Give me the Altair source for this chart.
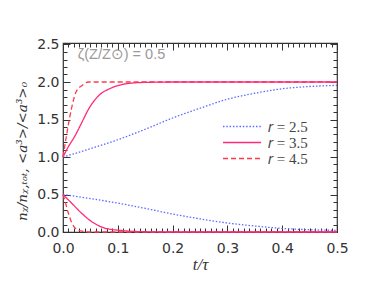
import altair as alt
import pandas as pd

# ---- data ----
series_names = ["𝑟 = 2.5", "𝑟 = 3.5", "𝑟 = 4.5"]

r25_t = [0, 0.05, 0.1, 0.15, 0.2, 0.25, 0.3, 0.35, 0.4, 0.45, 0.5]
r25_up = [1.0, 1.11, 1.23, 1.37, 1.52, 1.65, 1.77, 1.85, 1.91, 1.94, 1.955]
r25_lo = [0.50, 0.445, 0.385, 0.315, 0.24, 0.175, 0.12, 0.08, 0.048, 0.03, 0.022]

r35_up_t = [0, 0.01, 0.021, 0.035, 0.046, 0.064, 0.088, 0.11, 0.125, 0.15, 0.2, 0.5]
r35_up = [1.0, 1.14, 1.27, 1.47, 1.63, 1.81, 1.92, 1.97, 1.985, 1.995, 2.0, 2.0]
r35_lo_t = [0, 0.015, 0.034, 0.052, 0.076, 0.107, 0.137, 0.2, 0.5]
r35_lo = [0.5, 0.39, 0.25, 0.14, 0.053, 0.02, 0.006, 0.0, 0.0]

r45_up_t = [0, 0.006, 0.015, 0.024, 0.036, 0.046, 0.1, 0.5]
r45_up = [1.0, 1.27, 1.63, 1.87, 1.96, 2.0, 2.0, 2.0]
r45_lo_t = [0, 0.003, 0.009, 0.015, 0.024, 0.036, 0.05, 0.5]
r45_lo = [0.5, 0.43, 0.27, 0.14, 0.04, 0.01, 0.0, 0.0]

x_major = [0.0, 0.1, 0.2, 0.3, 0.4, 0.5]
x_minor = [round(i * 0.01, 2) for i in range(51)]
y_major = [0.0, 0.5, 1.0, 1.5, 2.0, 2.5]
y_minor = [round(i * 0.1, 1) for i in range(26)]

annotation = "ζ(Z/Z⊙) = 0.5"

rows = []
def add(name, branch, ts, vs):
    for t, v in zip(ts, vs):
        rows.append({"t": t, "v": v, "series": name, "branch": branch})

add(series_names[0], "up", r25_t, r25_up)
add(series_names[0], "lo", r25_t, r25_lo)
add(series_names[2], "up", r45_up_t, r45_up)
add(series_names[2], "lo", r45_lo_t, r45_lo)
add(series_names[1], "up", r35_up_t, r35_up)
add(series_names[1], "lo", r35_lo_t, r35_lo)
df = pd.DataFrame(rows)

X_DOM = [0, 0.5]
Y_DOM = [0, 2.52]
AX = "#333333"
LBL = "#333333"

def xs():
    return alt.Scale(domain=X_DOM, nice=False, zero=False, padding=0)

def ys():
    return alt.Scale(domain=Y_DOM, nice=False, zero=False, padding=0)

def xenc(axis):
    return alt.X("t:Q", scale=xs(), axis=axis)

def yenc(axis):
    return alt.Y("v:Q", scale=ys(), axis=axis)

def tick_axis(orient, values, size, labels=False, title=None, **kw):
    return alt.Axis(orient=orient, values=values, tickSize=size, offset=-size,
                    domain=False, grid=False, labels=labels, title=title,
                    tickColor=AX, tickWidth=1, **kw)

leg = alt.Legend(title=None, orient="none", legendX=159, legendY=76,
                 symbolType="stroke", symbolSize=1444, clipHeight=15,
                 symbolStrokeWidth=1.4, labelFont="Liberation Serif",
                 labelFontSize=15, labelColor="#444444",
                 labelOffset=6, rowPadding=0)

lines = alt.Chart(df).mark_line(interpolate="monotone", strokeWidth=1.3).encode(
    x=xenc(tick_axis("bottom", x_major, 7, labels=True, title="t/τ",
                     format=".1f", labelFont="DejaVu Sans", labelFontSize=14,
                     labelColor=LBL, labelPadding=9, labelFlush=False,
                     titleFont="Liberation Serif", titleFontStyle="italic",
                     titleFontSize=17, titleFontWeight="normal", titleColor=LBL,
                     titlePadding=1)),
    y=yenc(tick_axis("left", y_major, 7, labels=True,
                     title="nᵪ/nᵪ,ₜₒₜ, <a³>/<a³>₀",
                     format=".1f", labelFont="DejaVu Sans", labelFontSize=14,
                     labelColor=LBL, labelPadding=4, labelFlush=False,
                     titleFont="DejaVu Serif", titleFontStyle="italic",
                     titleFontSize=13.5, titleFontWeight="normal", titleColor=LBL,
                     titlePadding=7, titleY=108)),
    color=alt.Color("series:N",
                    scale=alt.Scale(domain=series_names,
                                    range=["#5a6cff", "#ff2a78", "#ff3b4a"]),
                    legend=leg),
    strokeDash=alt.StrokeDash("series:N",
                              scale=alt.Scale(domain=series_names,
                                              range=[[1.5, 1.8], [1, 0], [5, 3]]),
                              legend=leg),
    detail="branch:N",
    order=alt.Order("t:Q"),
)

ghost = alt.Chart(df).mark_line(opacity=0)

minor_bl = ghost.encode(
    x=xenc(tick_axis("bottom", x_minor, 4)),
    y=yenc(tick_axis("left", y_minor, 4)),
    detail="branch:N",
)
major_tr = ghost.encode(
    x=xenc(tick_axis("top", x_major, 7)),
    y=yenc(tick_axis("right", y_major, 7)),
    detail="branch:N",
)
minor_tr = ghost.encode(
    x=xenc(tick_axis("top", x_minor, 4)),
    y=yenc(tick_axis("right", y_minor, 4)),
    detail="branch:N",
)

ann_df = pd.DataFrame({"t": [0.027], "v": [2.36], "label": [annotation]})
ann = alt.Chart(ann_df).mark_text(align="left", baseline="middle", fontSize=14.5,
                                  font="Liberation Sans", color="#9a9a9a").encode(
    x=alt.X("t:Q", scale=xs(), axis=None),
    y=alt.Y("v:Q", scale=ys(), axis=None),
    text="label:N",
)

chart = alt.layer(lines, minor_bl, major_tr, minor_tr, ann).resolve_axis(
    x="independent", y="independent"
).properties(
    width=274, height=189,
    autosize=alt.AutoSizeParams(type="none"),
    padding={"left": 55, "top": 35, "right": 29, "bottom": 41},
).configure_view(stroke=AX, strokeWidth=1.2)

chart.save("out.html", embed_options={"renderer": "svg", "actions": False})
